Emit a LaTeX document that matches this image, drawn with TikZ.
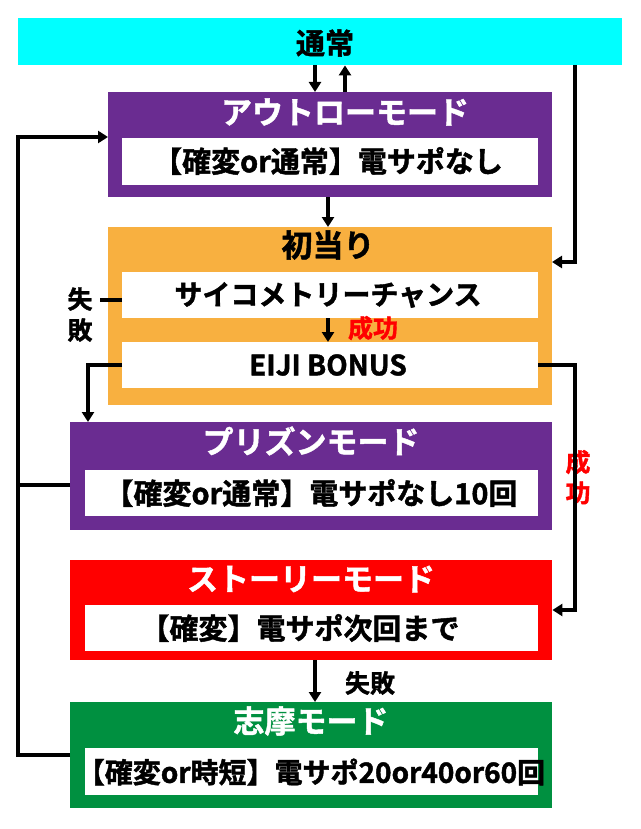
\documentclass[tikz,border=0pt]{standalone}
\usepackage{fontspec}
\setmainfont{Noto Sans CJK JP}[BoldFont={Noto Sans CJK JP Bold},BoldFeatures={FakeBold=1.5}]
\usetikzlibrary{arrows.meta}
\definecolor{cy}{HTML}{00FFFF}
\definecolor{pu}{HTML}{6A2C91}
\definecolor{orr}{HTML}{F8B040}
\definecolor{rd}{HTML}{FF0000}
\definecolor{gr}{HTML}{009040}
\tikzset{
 panel/.style={draw=none,inner sep=0,anchor=north west},
 inner/.style={fill=white,inner sep=0,anchor=north west},
 ttl/.style={font=\bfseries\fontsize{31}{31}\selectfont,text=white},
 tx/.style={font=\bfseries\fontsize{29}{29}\selectfont},
 lb/.style={font=\bfseries\fontsize{25}{25}\selectfont},
 arr/.style={line width=3.5pt,-{Triangle[length=10pt,width=12pt]}},
 ln/.style={line width=3.5pt},
}
\begin{document}
\begin{tikzpicture}[x=1pt,y=-1pt]
\useasboundingbox (0,0) rectangle (640,829);
% top bar
\node[panel,fill=cy,minimum width=604pt,minimum height=47pt] (top) at (18,18) {};
\node[tx] (toptx) at (325,43) {通常};
% outlaw
\node[panel,fill=pu,minimum width=444pt,minimum height=105pt] (p1) at (108,92) {};
\node[ttl] (p1t) at (345,112) {アウトローモード};
\node[inner,minimum width=416pt,minimum height=47pt] (p1i) at (122,138) {};
\node[tx] (p1x) at (328,161) {【確変or通常】電サポなし};
% orange
\node[panel,fill=orr,minimum width=444pt,minimum height=178pt] (o) at (108,227) {};
\node[font=\bfseries\fontsize{31}{31}\selectfont] (ot) at (328,245) {初当り};
\node[inner,minimum width=416pt,minimum height=46pt] (s1) at (122,272) {};
\node[font=\bfseries\fontsize{28}{28}\selectfont] (s1x) at (328,295) {サイコメトリーチャンス};
\node[inner,minimum width=416pt,minimum height=46pt] (s2) at (122,342) {};
\node[font=\bfseries\fontsize{28}{28}\selectfont] (s2x) at (328,365) {EIJI BONUS};
\node[lb,text=rd] (sk1) at (373,328) {成功};
% prison
\node[panel,fill=pu,minimum width=482pt,minimum height=108pt] (p2) at (70,422) {};
\node[ttl] (p2t) at (311,441) {プリズンモード};
\node[inner,minimum width=453pt,minimum height=46pt] (p2i) at (85,470) {};
\node[tx] (p2x) at (311,493) {【確変or通常】電サポなし10回};
% story
\node[panel,fill=rd,minimum width=482pt,minimum height=100pt] (r) at (70,560) {};
\node[ttl] (rt) at (311,579) {ストーリーモード};
\node[inner,minimum width=453pt,minimum height=46pt] (ri) at (85,605) {};
\node[tx] (rx) at (300,628) {【確変】電サポ次回まで};
% shima
\node[panel,fill=gr,minimum width=482pt,minimum height=106pt] (g) at (70,702) {};
\node[ttl] (gt) at (311,721) {志摩モード};
\node[inner,minimum width=453pt,minimum height=47pt] (gi) at (85,748) {};
\node[font=\bfseries\fontsize{28}{28}\selectfont] (gx) at (311,772) {【確変or時短】電サポ20or40or60回};
% labels
\node[lb] (f1) at (80,299) {失};
\node[lb] (f2) at (80,330) {敗};
\node[lb] (f3) at (370,683) {失敗};
\node[lb,text=rd] (k1) at (578,462) {成};
\node[lb,text=rd] (k2) at (578,493) {功};
% arrows
\draw[arr] (top.south -| 315,0) -- (p1.north -| 315,0);
\draw[arr] (p1.north -| 345,0) -- (top.south -| 345,0);
\draw[arr] (p1.south -| 328,0) -- (o.north -| 328,0);
\draw[arr] (s1.south -| 328,0) -- (s2.north -| 328,0);
\coordinate (c1) at (575,65);
\coordinate (c2) at (552,262);
\draw[ln] (c1) -- (575,262);
\draw[arr] (577,262) -- (c2);
\draw[ln] (s1.west |- 0,300) -- (100,300);
\draw[ln] (s2.west |- 0,365) -- (88,365);
\draw[arr] (88,363) -- (p2.north -| 88,0);
\draw[ln] (s2.east |- 0,365) -- (575,365) -- (575,610);
\draw[arr] (577,610) -- (r.east |- 0,610);
\draw[arr] (r.south -| 315,0) -- (g.north -| 315,0);
\draw[ln] (g.west |- 0,755) -- (18,755) -- (18,135);
\draw[arr] (16,137) -- (p1.west |- 0,137);
\draw[ln] (p2.west |- 0,485) -- (18,485);
\end{tikzpicture}
\end{document}
